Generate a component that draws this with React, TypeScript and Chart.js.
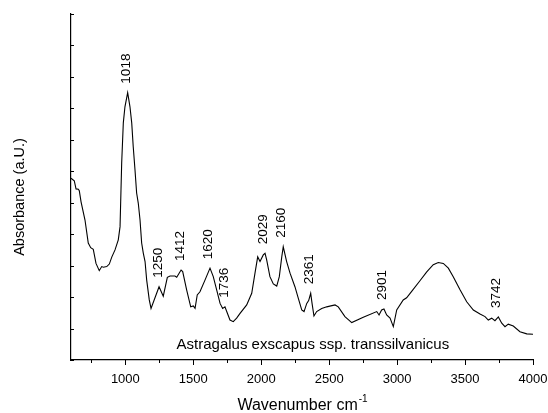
import React, { useEffect, useRef } from "react";
import { Chart, registerables } from "chart.js";

Chart.register(...registerables);

const wavenumbers = [
  600, 624, 637, 654, 661, 674, 703, 727, 745, 764, 784, 808, 826, 838, 863, 882, 900, 924, 948, 961,
  973, 985, 997, 1017, 1034, 1047, 1058, 1071, 1083, 1095, 1108, 1120, 1132, 1145, 1157, 1176, 1189,
  1248, 1279, 1309, 1329, 1365, 1378, 1410, 1422, 1451, 1481, 1500, 1513, 1529, 1549, 1586, 1623,
  1647, 1672, 1697, 1716, 1733, 1746, 1770, 1794, 1819, 1844, 1893, 1930, 1954, 1974, 1991, 2015,
  2028, 2040, 2064, 2089, 2114, 2133, 2151, 2162, 2187, 2212, 2248, 2273, 2298, 2315, 2335, 2349,
  2364, 2374, 2388, 2408, 2445, 2482, 2543, 2567, 2616, 2666, 2751, 2850, 2867, 2886, 2903, 2923,
  2948, 2972, 2997, 3045, 3070, 3110, 3168, 3218, 3266, 3303, 3340, 3377, 3413, 3463, 3512, 3561,
  3610, 3647, 3671, 3696, 3720, 3745, 3770, 3794, 3818, 3855, 3904, 3954, 4000,
];

const absorbance = [
  5.78, 5.7, 5.44, 5.43, 5.38, 5.03, 4.45, 3.72, 3.57, 3.52, 3.07, 2.84, 2.97, 2.95, 2.97, 3.05, 3.27,
  3.5, 3.82, 4.24, 6.26, 7.54, 8.05, 8.5, 8.05, 7.53, 6.78, 6.04, 5.31, 4.99, 4.45, 3.72, 3.4, 3.13,
  2.54, 1.91, 1.64, 2.33, 2.03, 2.63, 2.67, 2.67, 2.63, 2.86, 2.81, 2.23, 1.69, 1.72, 1.64, 2.07,
  2.17, 2.54, 2.92, 2.65, 2.23, 1.8, 1.64, 1.69, 1.54, 1.27, 1.22, 1.33, 1.48, 1.75, 2.12, 2.76,
  3.28, 3.13, 3.34, 3.39, 3.18, 2.65, 2.42, 2.35, 2.65, 3.28, 3.6, 3.13, 2.76, 2.33, 1.96, 1.59, 1.54,
  1.8, 1.89, 2.12, 1.8, 1.4, 1.54, 1.64, 1.69, 1.75, 1.69, 1.38, 1.19, 1.36, 1.54, 1.43, 1.59, 1.62,
  1.43, 1.33, 1.06, 1.59, 1.91, 1.98, 2.2, 2.52, 2.8, 3.03, 3.1, 3.07, 2.92, 2.65, 2.23, 1.85, 1.59,
  1.46, 1.38, 1.27, 1.33, 1.25, 1.37, 1.17, 1.06, 1.14, 1.08, 0.9, 0.83, 0.82,
];

const xTickLabels = [1000, 1500, 2000, 2500, 3000, 3500, 4000];
const xMinorTicks = [750, 1250, 1750, 2250, 2750, 3250, 3750];
const yTicks = [0, 1, 2, 3, 4, 5, 6, 7, 8, 9, 10, 11];

const peakLabels = ["1018", "1250", "1412", "1620", "1736", "2029", "2160", "2361", "2901", "3742"];
const peakPositions = [1018, 1250, 1412, 1620, 1736, 2029, 2160, 2361, 2901, 3742];
const peakHeights = [8.5, 2.33, 2.86, 2.92, 1.69, 3.39, 3.6, 2.12, 1.62, 1.37];

const sampleName = "Astragalus exscapus ssp. transsilvanicus";
const sampleX = 2380;
const sampleY = 0.48;

const xTitle = "Wavenumber cm";
const xTitleSup = "-1";
const yTitle = "Absorbance (a.U.)";

const FONT = "'Liberation Sans', Arial, sans-serif";

const decorPlugin = {
  id: "decor",
  afterDraw(chart: any) {
    const ctx = chart.ctx;
    const xs = chart.scales.x;
    const ys = chart.scales.y;
    const area = chart.chartArea;
    ctx.save();
    ctx.strokeStyle = "#000";
    ctx.fillStyle = "#000";
    ctx.lineWidth = 1;
    xTickLabels.forEach((v) => {
      const px = Math.round(xs.getPixelForValue(v)) + 0.5;
      ctx.beginPath();
      ctx.moveTo(px, area.bottom);
      ctx.lineTo(px, area.bottom + 5);
      ctx.stroke();
    });
    xMinorTicks.forEach((v) => {
      const px = Math.round(xs.getPixelForValue(v)) + 0.5;
      ctx.beginPath();
      ctx.moveTo(px, area.bottom);
      ctx.lineTo(px, area.bottom + 3);
      ctx.stroke();
    });
    yTicks.forEach((v) => {
      const py = Math.round(ys.getPixelForValue(v)) + 0.5;
      ctx.beginPath();
      ctx.moveTo(area.left, py);
      ctx.lineTo(area.left + 3, py);
      ctx.stroke();
    });

    ctx.font = `13.5px ${FONT}`;
    ctx.textAlign = "left";
    ctx.textBaseline = "middle";
    peakLabels.forEach((t, i) => {
      const px = xs.getPixelForValue(peakPositions[i]) - 1.5;
      const py = ys.getPixelForValue(peakHeights[i]) - 9;
      ctx.save();
      ctx.translate(px, py);
      ctx.rotate(-Math.PI / 2);
      ctx.fillText(t, 0, 0);
      ctx.restore();
    });

    ctx.font = `15px ${FONT}`;
    ctx.textAlign = "center";
    ctx.textBaseline = "middle";
    ctx.fillText(sampleName, xs.getPixelForValue(sampleX), ys.getPixelForValue(sampleY));

    ctx.font = `16px ${FONT}`;
    const w1 = ctx.measureText(xTitle).width;
    ctx.font = `10px ${FONT}`;
    const w2 = ctx.measureText(xTitleSup).width;
    const cx = (area.left + area.right) / 2;
    const startX = cx - (w1 + w2) / 2;
    ctx.textAlign = "left";
    ctx.textBaseline = "alphabetic";
    ctx.font = `16px ${FONT}`;
    ctx.fillText(xTitle, startX, 410);
    ctx.font = `10px ${FONT}`;
    ctx.fillText(xTitleSup, startX + w1 + 1, 402);

    ctx.font = `14.5px ${FONT}`;
    ctx.textAlign = "center";
    ctx.textBaseline = "middle";
    ctx.save();
    ctx.translate(20, 197);
    ctx.rotate(-Math.PI / 2);
    ctx.fillText(yTitle, 0, 0);
    ctx.restore();
    ctx.restore();
  },
};

export default function App() {
  const ref = useRef<HTMLCanvasElement | null>(null);
  useEffect(() => {
    if (!ref.current) return;
    const chart = new Chart(ref.current, {
      type: "line",
      data: {
        datasets: [
          {
            data: wavenumbers.map((x, i) => ({ x, y: absorbance[i] })),
            borderColor: "#000",
            borderWidth: 1.1,
            pointRadius: 0,
            tension: 0,
            fill: false,
          },
        ],
      },
      options: {
        responsive: false,
        animation: false,
        events: [],
        layout: { padding: { top: 14, right: 15, left: 0, bottom: 0 } },
        plugins: { legend: { display: false }, tooltip: { enabled: false }, title: { display: false } },
        scales: {
          x: {
            type: "linear",
            min: 600,
            max: 4000,
            afterBuildTicks: (axis: any) => {
              axis.ticks = xTickLabels.map((v) => ({ value: v }));
            },
            afterFit: (axis: any) => {
              axis.height = 53;
              axis.paddingLeft = 0;
              axis.paddingRight = 0;
            },
            grid: { display: false, drawTicks: false },
            border: { display: true, color: "#000", width: 1.2 },
            ticks: {
              color: "#000",
              padding: 12,
              font: { family: FONT, size: 13 },
              maxRotation: 0,
              autoSkip: false,
              callback: (v: any) => String(v),
            },
          },
          y: {
            type: "linear",
            min: 0,
            max: 11,
            afterFit: (axis: any) => {
              axis.width = 71;
              axis.paddingTop = 0;
              axis.paddingBottom = 0;
            },
            grid: { display: false, drawTicks: false },
            border: { display: true, color: "#000", width: 1.2 },
            ticks: { display: false },
          },
        },
      },
      plugins: [decorPlugin],
    });
    return () => chart.destroy();
  }, []);
  return (
    <div style={{ position: "absolute", left: 0, top: 0, width: 548, height: 413, background: "#fff" }}>
      <canvas ref={ref} width={548} height={413} style={{ display: "block", width: 548, height: 413 }} />
    </div>
  );
}
